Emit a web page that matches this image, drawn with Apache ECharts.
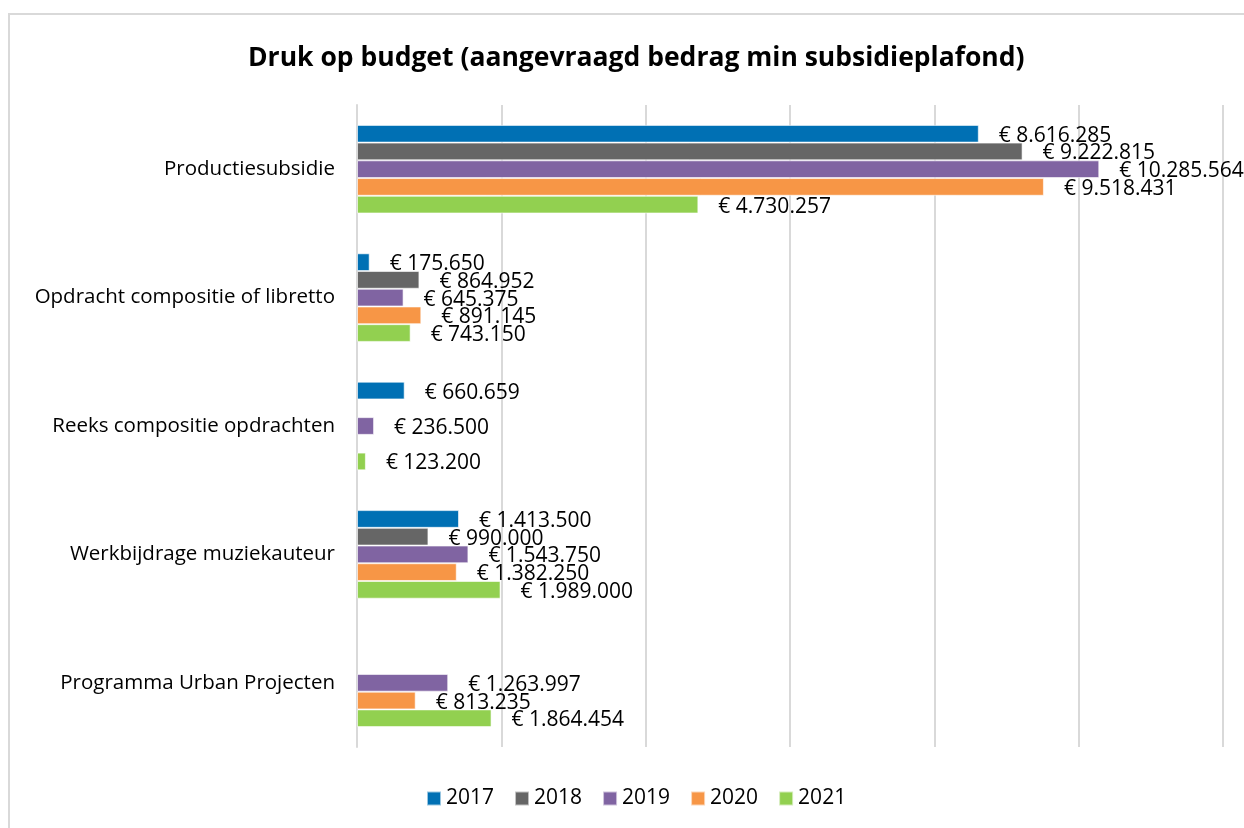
<!DOCTYPE html>
<html>
<head>
<meta charset="utf-8">
<script src="https://cdn.jsdelivr.net/npm/echarts@6/dist/echarts.min.js"></script>
<style>
  html, body { margin: 0; padding: 0; background: #fff; }
  #chart { width: 1244px; height: 828px; }
</style>
</head>
<body>
<div id="chart"></div>
<script>
// categorieën (van boven naar onder)
var categories = [
    'Productiesubsidie',
    'Opdracht compositie of libretto',
    'Reeks compositie opdrachten',
    'Werkbijdrage muziekauteur',
    'Programma Urban Projecten'
];
var years = ['2017', '2018', '2019', '2020', '2021'];
var colors = ['#0070B4', '#666666', '#8064A2', '#F79646', '#92D050'];

// bedragen per jaar, null = geen balk
var v2017 = [8616285, 175650, 660659, 1413500, null];
var v2018 = [9222815, 864952, null, 990000, null];
var v2019 = [10285564, 645375, 236500, 1543750, 1263997];
var v2020 = [9518431, 891145, null, 1382250, 813235];
var v2021 = [4730257, 743150, 123200, 1989000, 1864454];
var values = [v2017, v2018, v2019, v2020, v2021];

var xTicks = [0, 2000000, 4000000, 6000000, 8000000, 10000000, 12000000];

function euro(n) {
    return '€ ' + String(n).replace(/\B(?=(\d{3})+(?!\d))/g, '.');
}

var myChart = echarts.init(document.getElementById('chart'));

var series = years.map(function (y, i) {
    return {
        name: y,
        type: 'bar',
        data: values[i],
        barGap: '0%',
        barCategoryGap: '31%',
        itemStyle: { color: colors[i], borderColor: 'rgba(255,255,255,0.6)', borderWidth: 1 },
        label: {
            show: true,
            position: 'right',
            distance: 20,
            offset: [0, 2],
            color: '#000',
            fontFamily: 'Open Sans',
            fontSize: 21,
            formatter: function (p) { return euro(p.value); }
        }
    };
});

var option = {
    backgroundColor: '#fff',
    animation: false,
    title: {
        text: 'Druk op budget (aangevraagd bedrag min subsidieplafond)',
        left: 243,
        top: 40,
        textStyle: { fontFamily: 'Open Sans', fontWeight: 'bold', fontSize: 26.5, color: '#000' }
    },
    legend: {
        bottom: 14,
        left: 421,
        itemWidth: 14,
        itemHeight: 14,
        itemGap: 20,
        icon: 'rect',
        textStyle: { fontFamily: 'Open Sans', fontSize: 21, color: '#000' },
        data: years
    },
    grid: { left: 357, right: 21, top: 105, bottom: 81, containLabel: false },
    xAxis: {
        type: 'value',
        min: xTicks[0],
        max: xTicks[xTicks.length - 1],
        interval: xTicks[1] - xTicks[0],
        axisLabel: { show: false },
        axisLine: { show: false },
        axisTick: { show: false },
        splitLine: { lineStyle: { color: '#D9D9D9', width: 2 } }
    },
    yAxis: {
        type: 'category',
        inverse: true,
        data: categories,
        axisLine: { show: true, lineStyle: { color: '#D9D9D9', width: 2 } },
        axisTick: { show: false },
        axisLabel: { margin: 22, color: '#000', fontFamily: 'Open Sans', fontSize: 20.5 }
    },
    graphic: [{
        type: 'rect',
        shape: { x: 9, y: 14, width: 1300, height: 900 },
        style: { fill: 'none', stroke: '#D9D9D9', lineWidth: 2 },
        silent: true
    }],
    series: series
};

myChart.setOption(option);
</script>
</body>
</html>
